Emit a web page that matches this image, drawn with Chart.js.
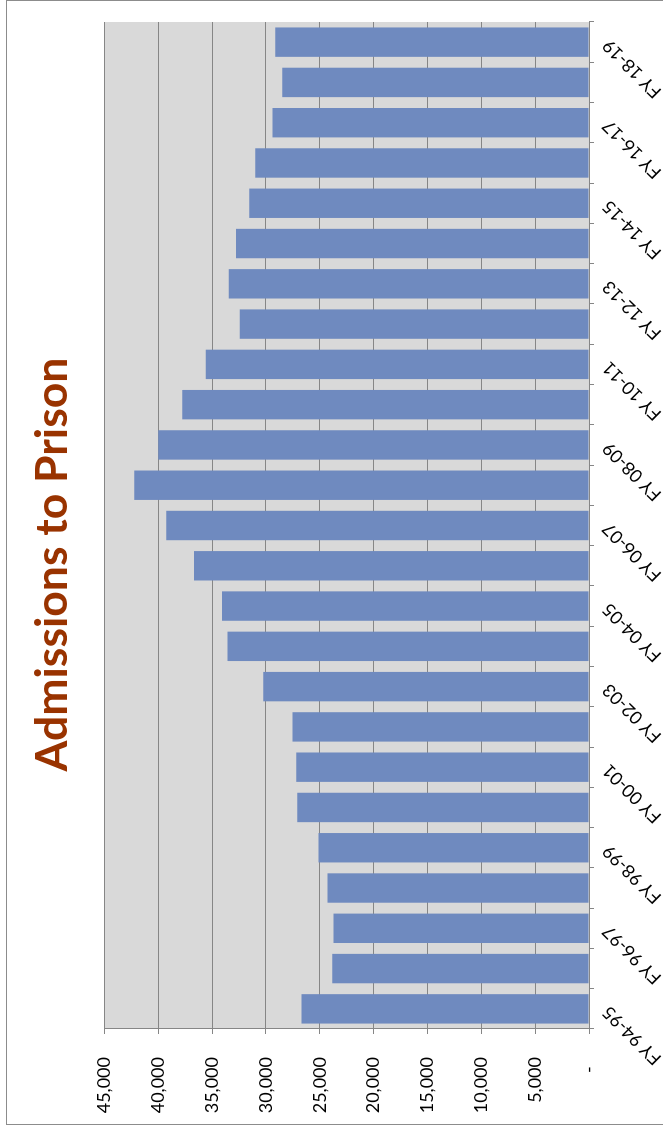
<!DOCTYPE html>
<html lang="en">
<head>
    <meta charset="UTF-8">
    <title>Admissions to Prison</title>
    <script src="https://cdn.jsdelivr.net/npm/chart.js"></script>
    <style>
        body {
            margin: 0;
            background: #ffffff;
            overflow: hidden;
        }

        /* the chart is laid out landscape and turned a quarter turn left */
        .wrap {
            position: absolute;
            left: 0;
            top: 0;
            width: 1129px;
            height: 663px;
            transform-origin: 0 0;
            transform: translateY(1129px) rotate(-90deg);
        }

        .frame {
            position: absolute;
            left: 4px;
            top: 6px;
            right: 0;
            bottom: -4px;
            border: 1px solid #8c8c8c;
            box-sizing: border-box;
        }

        canvas {
            position: absolute;
            left: 0;
            top: 0;
        }
    </style>
</head>
<body>
    <div class="wrap">
        <div class="frame"></div>
        <canvas id="prisonChart" width="1129" height="663"></canvas>
    </div>

    <script>
        const years = [
            'FY 94-95', 'FY 95-96', 'FY 96-97', 'FY 97-98', 'FY 98-99',
            'FY 99-00', 'FY 00-01', 'FY 01-02', 'FY 02-03', 'FY 03-04',
            'FY 04-05', 'FY 05-06', 'FY 06-07', 'FY 07-08', 'FY 08-09',
            'FY 09-10', 'FY 10-11', 'FY 11-12', 'FY 12-13', 'FY 13-14',
            'FY 14-15', 'FY 15-16', 'FY 16-17', 'FY 17-18', 'FY 18-19'
        ];

        const admissions = [
            26700, 23840, 23720, 24280, 25120,
            27100, 27190, 27530, 30260, 33580,
            34070, 36680, 39260, 42230, 40000,
            37770, 35600, 32440, 33460, 32770,
            31560, 31000, 29400, 28490, 29140
        ];

        const valueTicks = [0, 5000, 10000, 15000, 20000, 25000, 30000, 35000, 40000, 45000];

        // gray plot background
        const plotBackground = {
            id: 'plotBackground',
            beforeDraw(chart) {
                const a = chart.chartArea;
                const ctx = chart.ctx;
                ctx.save();
                ctx.fillStyle = '#d9d9d9';
                ctx.fillRect(a.left, a.top, a.right - a.left, a.bottom - a.top);
                ctx.restore();
            }
        };

        const ctx = document.getElementById('prisonChart').getContext('2d');

        new Chart(ctx, {
            type: 'bar',
            data: {
                labels: years,
                datasets: [{
                    label: 'Admissions',
                    data: admissions,
                    backgroundColor: '#6f8abf',
                    borderWidth: 0,
                    categoryPercentage: 1,
                    barPercentage: 0.73
                }]
            },
            options: {
                responsive: false,
                animation: false,
                devicePixelRatio: 1,
                layout: {
                    padding: 0
                },
                plugins: {
                    legend: { display: false },
                    tooltip: { enabled: false },
                    title: {
                        display: true,
                        text: 'Admissions to Prison',
                        color: '#993300',
                        font: { family: 'Lato', size: 44.5, weight: 'bold', lineHeight: 1.2 },
                        padding: { top: 26, bottom: 25 }
                    }
                },
                scales: {
                    x: {
                        grid: {
                            offset: true,
                            drawOnChartArea: false,
                            color: '#868686',
                            tickLength: 5
                        },
                        border: { display: true, color: '#868686', width: 1 },
                        ticks: {
                            autoSkip: false,
                            minRotation: 45,
                            maxRotation: 45,
                            padding: 4,
                            color: '#000000',
                            font: { family: 'Lato', size: 18 },
                            callback: function (value, index) {
                                return index % 2 === 0 ? years[index] : '';
                            }
                        },
                        afterFit(scale) {
                            scale.height = 74;
                        }
                    },
                    y: {
                        min: 0,
                        max: 45000,
                        afterBuildTicks(scale) {
                            scale.ticks = valueTicks.map(v => ({ value: v }));
                        },
                        grid: {
                            color: '#868686',
                            lineWidth: 1,
                            tickLength: 5
                        },
                        border: { display: true, color: '#868686', width: 1 },
                        ticks: {
                            padding: 23,
                            color: '#000000',
                            font: { family: 'Lato', size: 18 },
                            callback: function (value) {
                                return value === 0 ? '-  ' : value.toLocaleString('en-US');
                            }
                        },
                        afterFit(scale) {
                            scale.width = 100;
                        }
                    },
                    // empty strip on the right so the title stays centred on the whole chart
                    spacer: {
                        type: 'linear',
                        position: 'right',
                        grid: { display: false },
                        border: { display: false },
                        ticks: { display: false },
                        afterFit(scale) {
                            scale.width = 22;
                        }
                    }
                }
            },
            plugins: [plotBackground]
        });
    </script>
</body>
</html>
